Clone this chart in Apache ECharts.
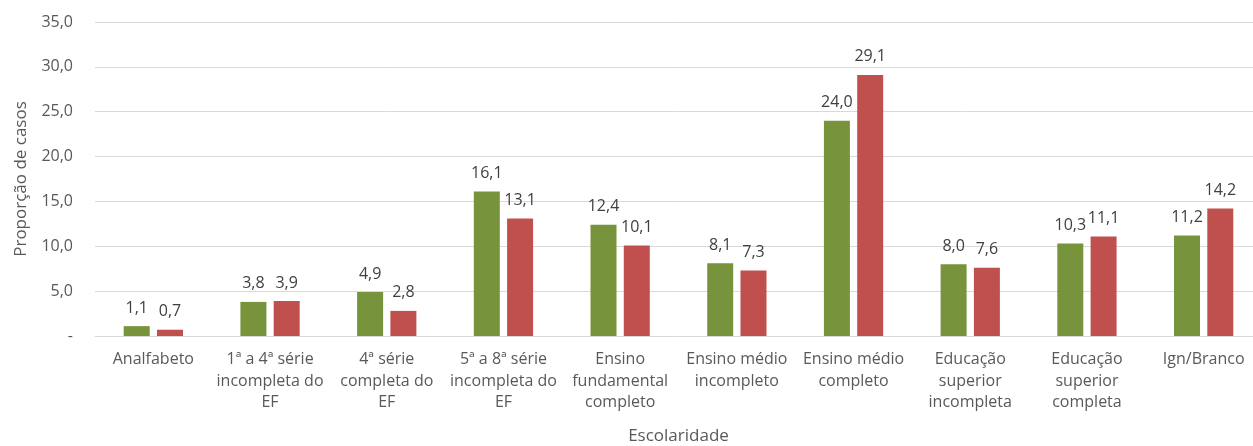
<!DOCTYPE html>
<html>
<head>
<meta charset="utf-8">
<script src="https://cdn.jsdelivr.net/npm/echarts@6/dist/echarts.min.js"></script>
<style>
html,body{margin:0;padding:0;background:#fff;}
#chart{width:1253px;height:446px;}
</style>
</head>
<body>
<div id="chart"></div>
<script>
var categories = [
  'Analfabeto',
  '1ª a 4ª série\nincompleta do\nEF',
  '4ª série\ncompleta do\nEF',
  '5ª a 8ª série\nincompleta do\nEF',
  'Ensino\nfundamental\ncompleto',
  'Ensino médio\nincompleto',
  'Ensino médio\ncompleto',
  'Educação\nsuperior\nincompleta',
  'Educação\nsuperior\ncompleta',
  'Ign/Branco'
];
var seriesGreen = [1.1, 3.8, 4.9, 16.1, 12.4, 8.1, 24.0, 8.0, 10.3, 11.2];
var seriesRed = [0.7, 3.9, 2.8, 13.1, 10.1, 7.3, 29.1, 7.6, 11.1, 14.2];
var yTicks = {min: 0, max: 35, interval: 5};

var font = '"Open Sans", "Noto Sans", sans-serif';
function fmt(v){ return v === 0 ? '-' : v.toFixed(1).replace('.', ','); }

var chart = echarts.init(document.getElementById('chart'), null, {renderer: 'canvas'});
chart.setOption({
  animation: false,
  textStyle: {fontFamily: font},
  grid: {left: 95, top: 22, width: 1167, height: 314, containLabel: false, outerBoundsMode: 'none'},
  xAxis: {
    type: 'category',
    data: categories,
    axisLine: {show: true, lineStyle: {color: '#d9d9d9', width: 1}},
    axisTick: {show: false},
    axisLabel: {color: '#595959', fontSize: 16, lineHeight: 21.5, margin: 13, interval: 0, fontFamily: font},
    name: 'Escolaridade',
    nameLocation: 'middle',
    nameGap: 92,
    nameTextStyle: {color: '#595959', fontSize: 17, fontFamily: font}
  },
  yAxis: {
    type: 'value',
    min: yTicks.min, max: yTicks.max, interval: yTicks.interval,
    axisLine: {show: false},
    axisTick: {show: false},
    splitLine: {lineStyle: {color: '#d9d9d9', width: 1}},
    axisLabel: {color: '#595959', fontSize: 16, margin: 22, formatter: fmt, fontFamily: font},
    name: 'Proporção de casos',
    nameLocation: 'middle',
    nameGap: 65,
    nameRotate: 90,
    nameTextStyle: {color: '#595959', fontSize: 17, fontFamily: font}
  },
  series: [
    {
      type: 'bar', data: seriesGreen, barWidth: 26, barGap: '28%',
      itemStyle: {color: '#77933C'},
      label: {show: true, position: 'top', distance: 10, color: '#404040', fontSize: 16, formatter: function(p){return fmt(p.value);}, fontFamily: font}
    },
    {
      type: 'bar', data: seriesRed, barWidth: 26,
      itemStyle: {color: '#C0504D'},
      label: {show: true, position: 'top', distance: 10, color: '#404040', fontSize: 16, formatter: function(p){return fmt(p.value);}, fontFamily: font}
    }
  ]
});
</script>
</body>
</html>
